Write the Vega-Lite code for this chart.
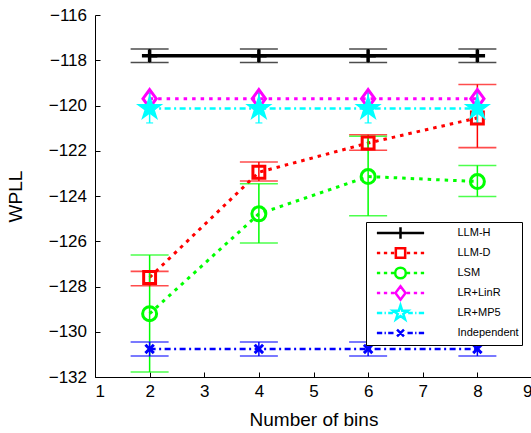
{
  "$schema": "https://vega.github.io/schema/vega-lite/v6.json",
  "width": 437,
  "height": 362,
  "autosize": {"type": "none"},
  "padding": {"left": 95, "top": 15, "right": 0, "bottom": 56},
  "background": "white",
  "config": {
    "view": {"stroke": null},
    "font": "Liberation Sans",
    "axis": {
      "grid": false,
      "domainColor": "#000000",
      "domainWidth": 1,
      "tickColor": "#000000",
      "tickSize": -5,
      "tickWidth": 1,
      "labelFont": "Liberation Sans",
      "labelFontSize": 17,
      "labelColor": "#000000",
      "titleFont": "Liberation Sans",
      "titleFontSize": 19,
      "titleFontWeight": "normal",
      "titleColor": "#000000"
    },
    "legend": {
      "labelFont": "Liberation Sans",
      "labelFontSize": 11,
      "labelColor": "#000000"
    }
  },
  "datasets": {
    "d": [
      {"s": "LLM-H", "x": 2, "v": -117.8, "lo": -118.1, "hi": -117.5},
      {"s": "LLM-H", "x": 4, "v": -117.8, "lo": -118.1, "hi": -117.5},
      {"s": "LLM-H", "x": 6, "v": -117.8, "lo": -118.1, "hi": -117.5},
      {"s": "LLM-H", "x": 8, "v": -117.8, "lo": -118.1, "hi": -117.5},
      {"s": "LLM-D", "x": 2, "v": -127.6, "lo": -127.97, "hi": -127.33},
      {"s": "LLM-D", "x": 4, "v": -122.95, "lo": -123.34, "hi": -122.5},
      {"s": "LLM-D", "x": 6, "v": -121.66, "lo": -121.98, "hi": -121.29},
      {"s": "LLM-D", "x": 8, "v": -120.55, "lo": -121.86, "hi": -119.07},
      {"s": "LSM", "x": 2, "v": -129.2, "lo": -131.78, "hi": -126.61},
      {"s": "LSM", "x": 4, "v": -124.79, "lo": -126.08, "hi": -123.46},
      {"s": "LSM", "x": 6, "v": -123.14, "lo": -124.87, "hi": -121.36},
      {"s": "LSM", "x": 8, "v": -123.36, "lo": -124.02, "hi": -122.65},
      {"s": "LR+LinR", "x": 2, "v": -119.7, "lo": -119.95, "hi": -119.45},
      {"s": "LR+LinR", "x": 4, "v": -119.7, "lo": -119.95, "hi": -119.45},
      {"s": "LR+LinR", "x": 6, "v": -119.7, "lo": -119.95, "hi": -119.45},
      {"s": "LR+LinR", "x": 8, "v": -119.7, "lo": -119.95, "hi": -119.45},
      {"s": "LR+MP5", "x": 2, "v": -120.13, "lo": -120.77, "hi": -119.44},
      {"s": "LR+MP5", "x": 4, "v": -120.13, "lo": -120.77, "hi": -119.44},
      {"s": "LR+MP5", "x": 6, "v": -120.13, "lo": -120.77, "hi": -119.44},
      {"s": "LR+MP5", "x": 8, "v": -120.13, "lo": -120.77, "hi": -119.44},
      {"s": "Independent", "x": 2, "v": -130.76, "lo": -131.07, "hi": -130.45},
      {"s": "Independent", "x": 4, "v": -130.76, "lo": -131.07, "hi": -130.45},
      {"s": "Independent", "x": 6, "v": -130.76, "lo": -131.07, "hi": -130.45},
      {"s": "Independent", "x": 8, "v": -130.76, "lo": -131.07, "hi": -130.45}
    ]
  },
  "data": {"name": "d"},
  "encoding": {
    "x": {
      "field": "x", "type": "quantitative",
      "scale": {"domain": [1, 9], "nice": false, "zero": false},
      "axis": {"values": [1, 2, 3, 4, 5, 6, 7, 8, 9], "format": "d", "title": "Number of bins", "labelPadding": 11.5, "titleBaseline": "alphabetic", "titleY": 48}
    },
    "y": {
      "field": "v", "type": "quantitative",
      "scale": {"domain": [-132, -116], "nice": false, "zero": false},
      "axis": {"values": [-132, -130, -128, -126, -124, -122, -120, -118, -116], "labelExpr": "'\u2212' + format(abs(datum.value), 'd')", "title": "WPLL", "labelPadding": 13.5, "titleX": -70}
    }
  },
  "layer": [
    {
      "transform": [{"filter": {"field": "s", "equal": "LLM-H"}}],
      "mark": {"type": "line", "strokeWidth": 3.5},
      "encoding": {
        "detail": {"field": "s"},
        "stroke": {"field": "s", "type": "nominal", "legend": null,
          "scale": {"domain": ["Independent", "LR+MP5", "LR+LinR", "LSM", "LLM-D", "LLM-H"], "range": ["#0000ff", "#00ffff", "#ff00ff", "#00ff00", "#ff0000", "#000000"]}}
      }
    },
    {
      "transform": [{"filter": {"field": "s", "oneOf": ["LLM-D", "LSM", "LR+LinR"]}}],
      "mark": {"type": "line", "strokeWidth": 3, "strokeCap": "butt"},
      "encoding": {
        "detail": {"field": "s"},
        "stroke": {"field": "s", "type": "nominal", "legend": null},
        "strokeDash": {"field": "s", "type": "nominal", "legend": null,
          "scale": {"domain": ["LSM", "LLM-H", "LLM-D", "LR+LinR", "LR+MP5", "Independent"], "range": [[3.5, 5], [1, 0], [3.5, 5], [3.5, 5], [6, 3.5, 2, 3.5], [6, 3.5, 2, 3.5]]}}
      }
    },
    {
      "transform": [{"filter": {"field": "s", "oneOf": ["LR+MP5", "Independent"]}}],
      "mark": {"type": "line", "strokeWidth": 2.5, "strokeCap": "butt"},
      "encoding": {
        "detail": {"field": "s"},
        "stroke": {"field": "s", "type": "nominal", "legend": null},
        "strokeDash": {"field": "s", "type": "nominal", "legend": null}
      }
    },
    {
      "mark": {"type": "rule", "strokeWidth": 1.5},
      "encoding": {
        "y": {"field": "lo", "type": "quantitative"},
        "y2": {"field": "hi"},
        "stroke": {"field": "s", "type": "nominal", "legend": null}
      }
    },
    {
      "transform": [
        {"filter": {"not": {"field": "s", "oneOf": ["LR+LinR", "LR+MP5"]}}},
        {"fold": ["lo", "hi"], "as": ["k", "cap"]}
      ],
      "mark": {"type": "tick", "orient": "horizontal", "size": 38, "thickness": 1.6},
      "encoding": {
        "y": {"field": "cap", "type": "quantitative"},
        "fill": {"field": "s", "type": "nominal", "legend": null,
          "scale": {"domain": ["LLM-D", "LLM-H", "LSM", "LR+LinR", "LR+MP5", "Independent"], "range": ["#ff0000", "#000000", "#00ff00", "#ff00ff", "#00ffff", "#0000ff"]}}
      }
    },
    {
      "transform": [
        {"filter": {"field": "s", "oneOf": ["LR+LinR", "LR+MP5"]}},
        {"fold": ["lo", "hi"], "as": ["k", "cap"]}
      ],
      "mark": {"type": "tick", "orient": "horizontal", "size": 7, "thickness": 1.5},
      "encoding": {
        "y": {"field": "cap", "type": "quantitative"},
        "fill": {"field": "s", "type": "nominal", "legend": null}
      }
    },
    {
      "transform": [{"filter": {"field": "s", "equal": "LLM-H"}}],
      "mark": {"type": "point", "filled": false, "size": 196, "strokeWidth": 3.5, "opacity": 1, "color": "#000000", "shape": "M-1.1,0H1.1M0,-0.9V0.9"}
    },
    {
      "transform": [{"filter": {"field": "s", "equal": "LLM-D"}}],
      "mark": {"type": "point", "filled": false, "size": 196, "strokeWidth": 3, "opacity": 1, "color": "#ff0000", "shape": "M-0.85,-0.85H0.85V0.85H-0.85Z"}
    },
    {
      "transform": [{"filter": {"field": "s", "equal": "LSM"}}],
      "mark": {"type": "point", "filled": false, "size": 196, "strokeWidth": 3, "opacity": 1, "color": "#00ff00", "shape": "M1,0A1,1,0,1,1,-1,0A1,1,0,1,1,1,0Z"}
    },
    {
      "transform": [{"filter": {"field": "s", "equal": "LR+LinR"}}],
      "mark": {"type": "point", "filled": false, "size": 196, "strokeWidth": 3, "opacity": 1, "color": "#ff00ff", "shape": "M0,-1.3L0.95,0L0,1.3L-0.95,0Z"}
    },
    {
      "transform": [{"filter": {"field": "s", "equal": "LR+MP5"}}],
      "mark": {"type": "point", "filled": true, "size": 196, "strokeWidth": 1.5, "opacity": 1, "color": "#00ffff", "stroke": "#00ffff", "shape": "M0,-1.7L0.382,-0.526L1.617,-0.525L0.618,0.201L0.999,1.375L0,0.65L-0.999,1.375L-0.618,0.201L-1.617,-0.525L-0.382,-0.526Z"}
    },
    {
      "transform": [{"filter": {"field": "s", "equal": "Independent"}}],
      "mark": {"type": "point", "filled": false, "size": 196, "strokeWidth": 3, "opacity": 1, "color": "#0000ff", "shape": "M-0.6,-0.6L0.6,0.6M-0.6,0.6L0.6,-0.6"}
    },
    {
      "mark": {"type": "point", "filled": false, "size": 0, "strokeWidth": 0},
      "encoding": {
        "color": {"field": "s", "type": "nominal",
          "scale": {"domain": ["LLM-H", "LLM-D", "LSM", "LR+LinR", "LR+MP5", "Independent"], "range": ["#000000", "#ff0000", "#00ff00", "#ff00ff", "#00ffff", "#0000ff"]},
          "legend": {
            "title": null, "orient": "none", "legendX": 271, "legendY": 207,
            "direction": "vertical",
            "strokeColor": "#000000", "fillColor": "#ffffff", "padding": 3, "cornerRadius": 0,
            "symbolSize": 177, "symbolStrokeWidth": 2.5, "symbolOpacity": 1, "symbolFillColor": "transparent",
            "symbolOffset": 23.5, "labelOffset": 49, "rowPadding": -6.5, "gridAlign": "all"
          }
        },
        "shape": {"field": "s", "type": "nominal",
          "scale": {"domain": ["LLM-H", "LLM-D", "LSM", "LR+LinR", "LR+MP5", "Independent"],
            "range": [
              "M-3.55,0H3.55M0,-0.86V0.86",
              "M-3.55,0h0.5M-2.5,0h0.5M-1.45,0h0.5M0.95,0h0.5M2,0h0.5M3.05,0h0.5M-0.7,-0.7H0.7V0.7H-0.7Z",
              "M-3.55,0h0.5M-2.5,0h0.5M-1.45,0h0.5M0.95,0h0.5M2,0h0.5M3.05,0h0.5M0.8,0A0.8,0.8,0,1,1,-0.8,0A0.8,0.8,0,1,1,0.8,0Z",
              "M-3.55,0h0.5M-2.5,0h0.5M-1.45,0h0.5M0.95,0h0.5M2,0h0.5M3.05,0h0.5M0,-1L0.76,0L0,1L-0.76,0Z",
              "M-3.55,0h0.8M-2.4,0h0.2M-1.85,0h0.7M1.15,0h0.7M2.2,0h0.2M2.75,0h0.8M0,-1.15L0.259,-0.356L1.094,-0.355L0.418,0.136L0.676,0.93L0,0.44L-0.676,0.93L-0.418,0.136L-1.094,-0.355L-0.259,-0.356Z",
              "M-3.55,0h0.8M-2.4,0h0.2M-1.85,0h0.8M1.05,0h0.8M2.2,0h0.2M2.75,0h0.8M-0.52,-0.52L0.52,0.52M-0.52,0.52L0.52,-0.52"
            ]}
        }
      }
    }
  ]
}
